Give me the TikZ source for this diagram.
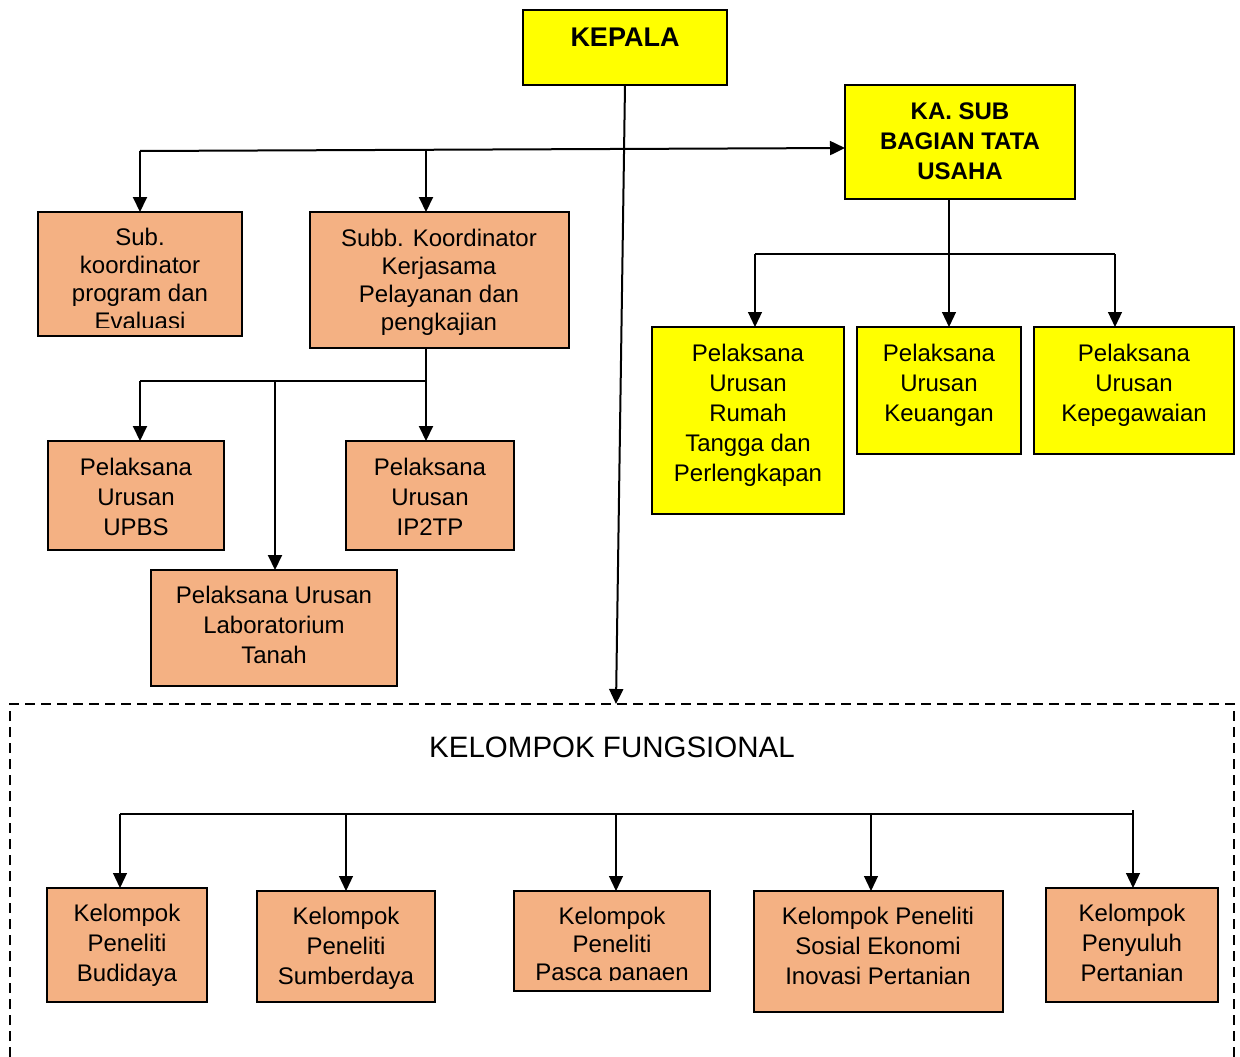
\documentclass[tikz,border=0pt]{standalone}
\usepackage{fontspec}
\setmainfont{Liberation Sans}
\usetikzlibrary{arrows.meta}
\definecolor{orng}{HTML}{F4B183}
\definecolor{ylw}{HTML}{FFFF00}
\begin{document}
\begin{tikzpicture}[x=1pt,y=-1pt,
  boxy/.style={draw, fill=ylw, line width=2.2pt, inner sep=0pt, outer sep=0pt},
  boxo/.style={draw, fill=orng, line width=1.8pt, inner sep=0pt, outer sep=0pt},
  boxk/.style={draw, fill=orng, line width=1.3pt, inner sep=0pt, outer sep=0pt},
  txta/.style={anchor=north, align=center, inner sep=0pt, font=\fontsize{24}{28}\selectfont, execute at begin node={\strut}},
  txtb/.style={anchor=north, align=center, inner sep=0pt, font=\fontsize{24}{30}\selectfont, execute at begin node={\strut}},
  txtbold/.style={anchor=north, align=center, inner sep=0pt, font=\fontsize{24}{30}\selectfont\bfseries, execute at begin node={\strut}},
  cn/.style={line width=2pt},
  cnt/.style={line width=1.2pt},
  arr/.style={-{Triangle[length=15pt,width=14pt]}},
]
\useasboundingbox (0,0) rectangle (1240,1057);

% dashed frame
\draw[line width=2.2pt, dash pattern=on 10pt off 6pt] (10,1057) -- (10,704) -- (1234,704) -- (1234,1057);
\node[inner sep=0pt, font=\fontsize{29.5}{32}\selectfont] (kf) at (612,747) {KELOMPOK FUNGSIONAL};

% top boxes
\node[boxy, minimum width=204pt, minimum height=75pt] (kepala) at (625,47.5) {};
\node[txtbold, font=\fontsize{27}{30}\selectfont\bfseries] (kepalaT) at (625,25) {KEPALA};
\node[boxy, minimum width=230pt, minimum height=114pt] (kasub) at (960,142) {};
\node[txtbold] (kasubT) at (960,102.6) {KA. SUB\\BAGIAN TATA\\USAHA};

% left orange
\node[boxo, minimum width=204pt, minimum height=124pt] (sub) at (140,274) {};
\begin{scope}
\clip (38,212) rectangle (242,327.5);
\node[txta] (subT) at (140,228) {Sub.\\koordinator\\program dan\\Evaluasi};
\end{scope}
\node[boxo, minimum width=259pt, minimum height=136pt] (subb) at (439.5,280) {};
\node[txta] (subbT) at (439,228.5) {Subb. Koordinator\\Kerjasama\\Pelayanan dan\\pengkajian};

\node[boxo, minimum width=176pt, minimum height=109pt] (upbs) at (136,495.5) {};
\node[txtb] (upbsT) at (136,457.6) {Pelaksana\\Urusan\\UPBS};
\node[boxo, minimum width=168pt, minimum height=109pt] (ip2tp) at (430,495.5) {};
\node[txtb] (ip2tpT) at (430,457.6) {Pelaksana\\Urusan\\IP2TP};
\node[boxo, minimum width=246pt, minimum height=116pt] (lab) at (274,628) {};
\node[txtb] (labT) at (274,586.1) {Pelaksana Urusan\\Laboratorium\\Tanah};

% right yellow
\node[boxy, minimum width=192pt, minimum height=187pt] (rumah) at (748,420.5) {};
\node[txtb] (rumahT) at (748,343.6) {Pelaksana\\Urusan\\Rumah\\Tangga dan\\Perlengkapan};
\node[boxy, minimum width=164pt, minimum height=127pt] (keu) at (939,390.5) {};
\node[txtb] (keuT) at (939,343.6) {Pelaksana\\Urusan\\Keuangan};
\node[boxy, minimum width=200pt, minimum height=127pt] (kepeg) at (1134,390.5) {};
\node[txtb] (kepegT) at (1134,343.6) {Pelaksana\\Urusan\\Kepegawaian};

% kelompok
\node[boxk, minimum width=160pt, minimum height=114pt] (budi) at (127,945) {};
\node[txtb] (budiT) at (127,903.6) {Kelompok\\Peneliti\\Budidaya};
\node[boxk, minimum width=178pt, minimum height=111pt] (sumber) at (346,946.5) {};
\node[txtb] (sumberT) at (346,906.6) {Kelompok\\Peneliti\\Sumberdaya};
\node[boxk, minimum width=196pt, minimum height=100pt] (pasca) at (612,941) {};
\begin{scope}
\clip (514,891) rectangle (710,980.5);
\node[txta] (pascaT) at (612,906.5) {Kelompok\\Peneliti\\Pasca panaen};
\end{scope}
\node[boxk, minimum width=249pt, minimum height=121pt] (sosial) at (878.5,951.5) {};
\node[txtb] (sosialT) at (878,906.6) {Kelompok Peneliti\\Sosial Ekonomi\\Inovasi Pertanian};
\node[boxk, minimum width=172pt, minimum height=114pt] (penyuluh) at (1132,945) {};
\node[txtb] (penyuluhT) at (1132,903.6) {Kelompok\\Penyuluh\\Pertanian};

% coordinates
\coordinate (fk) at (616,704);
\coordinate (h1) at (140,151);
\coordinate (h2) at (426,151);
\coordinate (h3) at (845,148);
\coordinate (s0) at (140,381);
\coordinate (s1) at (426,381);
\coordinate (s2) at (275,381);
\coordinate (k0) at (949,254);
\coordinate (k1) at (755,254);
\coordinate (k2) at (1115,254);
\coordinate (f0) at (120,814);
\coordinate (f1) at (346,814);
\coordinate (f2) at (616,814);
\coordinate (f3) at (871,814);
\coordinate (f4) at (1133,814);
\coordinate (ft) at (1133,810);

% connectors top
\draw[cn, arr] (kepala.south) -- (fk);
\draw[cn, arr] (h1) -- (h3);
\draw[cn, arr] (h1) -- (sub.north);
\draw[cn, arr] (h2) -- (h2 |- subb.north);
\draw[cn] (s1 |- subb.south) -- (s1);
\draw[cn] (s0) -- (s1);
\draw[cn, arr] (s0) -- (s0 |- upbs.north);
\draw[cn, arr] (s2) -- (s2 |- lab.north);
\draw[cn, arr] (s1) -- (s1 |- ip2tp.north);

% ka sub children
\draw[cnt] (k0 |- kasub.south) -- (k0);
\draw[cnt] (k1) -- (k2);
\draw[cnt, arr] (k1) -- (k1 |- rumah.north);
\draw[cnt, arr] (k0) -- (k0 |- keu.north);
\draw[cnt, arr] (k2) -- (k2 |- kepeg.north);

% kelompok connectors
\draw[cnt] (f0) -- (f4);
\draw[cnt] (ft) -- (f4);
\draw[cnt, arr] (f0) -- (f0 |- budi.north);
\draw[cnt, arr] (f1) -- (f1 |- sumber.north);
\draw[cnt, arr] (f2) -- (f2 |- pasca.north);
\draw[cnt, arr] (f3) -- (f3 |- sosial.north);
\draw[cnt, arr] (f4) -- (f4 |- penyuluh.north);
\end{tikzpicture}
\end{document}
